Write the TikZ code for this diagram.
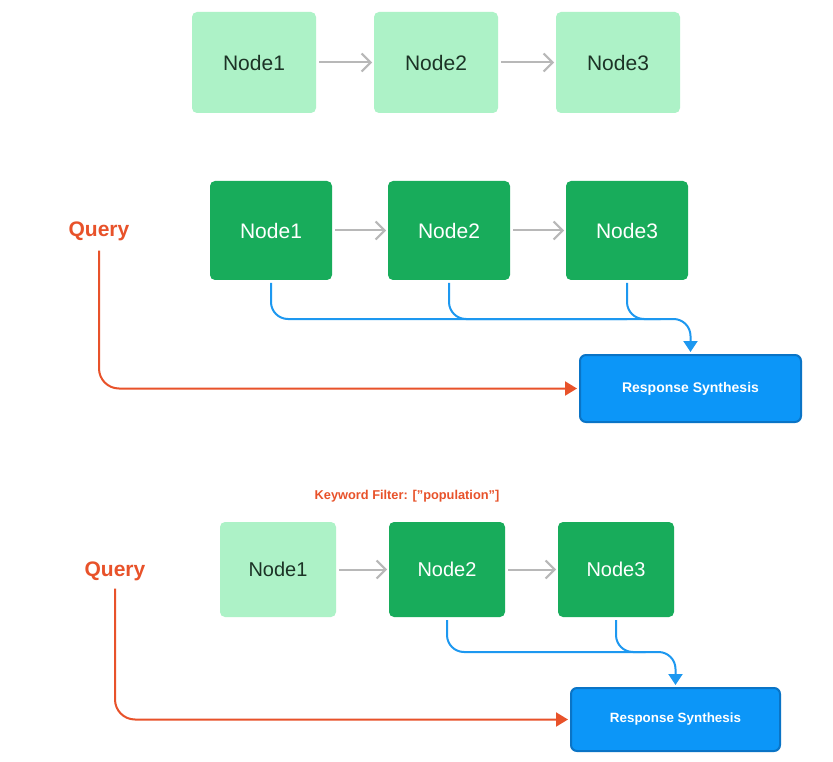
\documentclass[tikz,border=0pt]{standalone}
\usepackage{fontspec}
\setmainfont{Liberation Sans}
\usetikzlibrary{arrows.meta,positioning,calc}
\definecolor{lightg}{HTML}{ADF2C7}
\definecolor{darkg}{HTML}{18AC5B}
\definecolor{darktxt}{HTML}{1C3326}
\definecolor{grayarr}{HTML}{B8B8B8}
\definecolor{orangec}{HTML}{E8522A}
\definecolor{bluel}{HTML}{1D98F0}
\definecolor{respfill}{HTML}{0C96F8}
\definecolor{respdraw}{HTML}{0A74C6}
\tikzset{
  lightbox/.style={fill=lightg, rounded corners=5pt, inner sep=0pt, outer sep=0pt, text=darktxt, font=\fontsize{21}{24}\selectfont},
  darkbox/.style={fill=darkg, rounded corners=5pt, inner sep=0pt, outer sep=0pt, text=white, font=\fontsize{21}{24}\selectfont},
  respbox/.style={fill=respfill, draw=respdraw, line width=2pt, rounded corners=6pt, inner sep=0pt, text=white, font=\bfseries\fontsize{14}{16}\selectfont},
  querytext/.style={text=orangec, font=\bfseries\fontsize{21}{24}\selectfont, inner sep=0pt},
  grayarrow/.style={draw=grayarr, line width=2pt, -{Straight Barb[length=9pt,width=18pt]}, shorten <=3pt, shorten >=2pt},
  bluearrow/.style={draw=bluel, line width=2pt, rounded corners=17pt},
  orangearrow/.style={draw=orangec, line width=2pt, rounded corners=20pt, -{Triangle[length=12pt,width=14pt]}},
}
\begin{document}
\begin{tikzpicture}[x=1pt,y=-1pt]
\useasboundingbox[fill=white] (0,0) rectangle (833,762);

% top row
\node[lightbox, minimum width=124pt, minimum height=101pt] (a1) at (254,62.5) {Node1};
\node[lightbox, minimum width=124pt, minimum height=101pt] (a2) at (436,62.5) {Node2};
\node[lightbox, minimum width=124pt, minimum height=101pt] (a3) at (618,62.5) {Node3};
\draw[grayarrow] (a1) -- (a2);
\draw[grayarrow] (a2) -- (a3);

% middle row
\node[querytext] (q1) at (99,231) {Query};
\node[darkbox, minimum width=122pt, minimum height=99pt] (m1) at (271,230.5) {Node1};
\node[darkbox, minimum width=122pt, minimum height=99pt] (m2) at (449,230.5) {Node2};
\node[darkbox, minimum width=122pt, minimum height=99pt] (m3) at (627,230.5) {Node3};
\draw[grayarrow] (m1) -- (m2);
\draw[grayarrow] (m2) -- (m3);
\node[respbox, minimum width=221pt, minimum height=67pt] (r1) at (690.5,388.5) {Response Synthesis};
\coordinate (h1) at (0,319);
\draw[bluearrow] ([yshift=-3pt]m2.south) |- (h1 -| m3.south);
\draw[bluearrow] ([yshift=-3pt]m3.south) |- ($(h1 -| r1.north)+(-30,0)$);
\draw[bluearrow, -{Triangle[length=11pt,width=14pt]}] ([yshift=-3pt]m1.south) |- (h1 -| r1.north) -- ([yshift=2pt]r1.north);
\draw[orangearrow] ([yshift=-10pt]q1.south) |- ([xshift=-2pt]r1.west);

% bottom row
\node[text=orangec, font=\bfseries\fontsize{12.8}{15}\selectfont, inner sep=0pt] (kf) at (407,496) {Keyword Filter: [\char"0022population\char"0022]};
\node[querytext] (q2) at (115,571) {Query};
\node[lightbox, minimum width=116pt, minimum height=95pt, font=\fontsize{20}{24}\selectfont] (b1) at (278,569.5) {Node1};
\node[darkbox, minimum width=116pt, minimum height=95pt, font=\fontsize{20}{24}\selectfont] (b2) at (447,569.5) {Node2};
\node[darkbox, minimum width=116pt, minimum height=95pt, font=\fontsize{20}{24}\selectfont] (b3) at (616,569.5) {Node3};
\draw[grayarrow] (b1) -- (b2);
\draw[grayarrow] (b2) -- (b3);
\node[respbox, minimum width=209pt, minimum height=63pt, font=\bfseries\fontsize{13.4}{16}\selectfont] (r2) at (675.5,719.5) {Response Synthesis};
\coordinate (h2) at (0,652);
\draw[bluearrow] ([yshift=-3pt]b3.south) |- ($(h2 -| r2.north)+(-30,0)$);
\draw[bluearrow, -{Triangle[length=11pt,width=14pt]}] ([yshift=-3pt]b2.south) |- (h2 -| r2.north) -- ([yshift=2pt]r2.north);
\draw[orangearrow] ([yshift=-8pt]q2.south) |- ([xshift=-2pt]r2.west);
\end{tikzpicture}
\end{document}
